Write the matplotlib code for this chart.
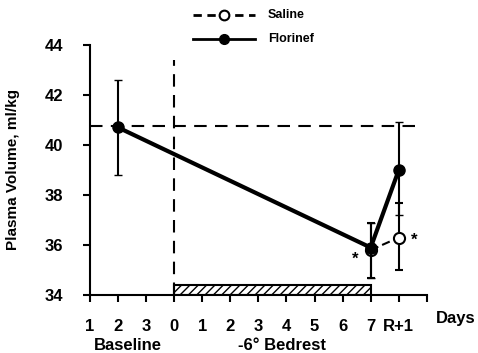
import matplotlib.pyplot as plt
from matplotlib.lines import Line2D

plt.rcParams['font.family'] = ['Liberation Sans', 'DejaVu Sans']
plt.rcParams['font.weight'] = 'bold'

# tick labels along the time axis
tick_labels = ['1', '2', '3', '0', '1', '2', '3', '4', '5', '6', '7', 'R+1', '']

# Florinef group
flo_x = [1, 10, 11]
flo_y = [40.7, 35.9, 39.0]
flo_lo = [38.8, 34.7, 37.2]
flo_hi = [42.6, 36.9, 40.9]

# Saline group
sal_x = [10, 11]
sal_y = [35.8, 36.3]
sal_lo = [34.7, 35.0]
sal_hi = [36.9, 37.7]

baseline = 40.75

fig = plt.figure(figsize=(4.78, 3.53), dpi=100)
ax = fig.add_axes([0.188, 0.164, 0.705, 0.709])

# horizontal dashed baseline level and vertical start of bedrest
ax.plot([0, 11.6], [baseline, baseline], color='black', lw=1.5, ls=(0, (6, 4)))
ax.plot([3, 3], [34, 43.4], color='black', lw=1.5, ls=(0, (6, 4)))

# hatched bedrest bar
ax.bar(6.5, 0.4, width=7, bottom=34, fill=False, hatch='////', edgecolor='black', lw=1.5)

# saline
ax.errorbar(sal_x, sal_y,
            yerr=[[y - l for y, l in zip(sal_y, sal_lo)], [h - y for y, h in zip(sal_y, sal_hi)]],
            color='black', lw=1.5, ls=(0, (4, 2)), marker='o', ms=8, mfc='white', mew=1.5,
            capsize=3, elinewidth=1.5)

# florinef
ax.errorbar(flo_x, flo_y,
            yerr=[[y - l for y, l in zip(flo_y, flo_lo)], [h - y for y, h in zip(flo_y, flo_hi)]],
            color='black', lw=3, marker='o', ms=8, capsize=3, elinewidth=1.5, zorder=5)

ax.text(9.45, 35.45, '*', fontsize=12, ha='center', va='center')
ax.text(11.55, 36.2, '*', fontsize=12, ha='center', va='center')

ax.set_xlim(0, 12)
ax.set_ylim(34, 44)
ax.set_xticks(range(13))
ax.set_xticklabels(tick_labels, fontsize=12, fontweight='bold')
ax.set_yticks([34, 36, 38, 40, 42, 44])
ax.set_yticklabels(['34', '36', '38', '40', '42', '44'], fontsize=12, fontweight='bold')
ax.tick_params(width=1.5, length=5)
ax.tick_params(axis='x', pad=12)
ax.tick_params(axis='y', pad=14)
ax.spines['top'].set_visible(False)
ax.spines['right'].set_visible(False)
ax.spines['left'].set_linewidth(1.5)
ax.spines['bottom'].set_linewidth(1.5)
ax.set_ylabel('Plasma Volume, ml/kg', fontsize=11, fontweight='bold', labelpad=18)

fig.text(0.995, 0.086, 'Days', fontsize=12, fontweight='bold', ha='right')
fig.text(0.268, 0.0, 'Baseline', fontsize=12, fontweight='bold', ha='center', va='bottom')
fig.text(0.59, 0.0, '-6° Bedrest', fontsize=12, fontweight='bold', ha='center', va='bottom')

# legend drawn in figure coordinates
fig.add_artist(Line2D([0.404, 0.468, 0.533], [0.957, 0.957, 0.957], color='black', lw=2,
                      ls=(0, (3, 2)), marker='o', markevery=[1], mfc='white', ms=7, mew=1.5,
                      transform=fig.transFigure))
fig.add_artist(Line2D([0.404, 0.468, 0.533], [0.89, 0.89, 0.89], color='black', lw=2,
                      marker='o', markevery=[1], ms=7, transform=fig.transFigure))
fig.text(0.56, 0.957, 'Saline', fontsize=9, fontweight='bold', va='center')
fig.text(0.56, 0.89, 'Florinef', fontsize=9, fontweight='bold', va='center')

plt.savefig('out.png', dpi=100)
